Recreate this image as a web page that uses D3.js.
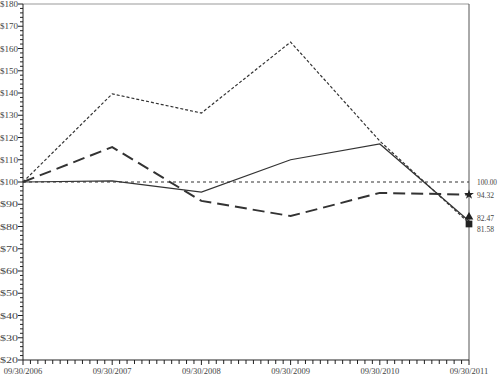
<!DOCTYPE html>
<html lang="en">
<head>
    <meta charset="UTF-8">
    <title>Cumulative Return</title>
    <style>
        body{ margin: 0; background: #fff; }
        svg{ display: block; }
        text{ font-family: "Liberation Serif", "DejaVu Serif", serif; fill: #444; }
    </style>
    <script src="https://cdn.jsdelivr.net/npm/d3@7"></script>
</head>
<body>
<script>
    const dates = ["09/30/2006","09/30/2007","09/30/2008","09/30/2009","09/30/2010","09/30/2011"]
    const companyVals = [100, 100.5, 95.5, 110, 117.1, 82.47]
    const peerVals = [100, 139.6, 131, 162.9, 118.4, 81.58]
    const indexVals = [100, 115.7, 91.5, 84.7, 95.1, 94.32]
    const baseVals = [100, 100, 100, 100, 100, 100]
    const yTicks = d3.range(20, 181, 10)

    const width = 499, height = 377
    const m = {top: 4, right: 30, bottom: 17, left: 23}

    const svg = d3.select("body").append("svg")
        .attr("width", width).attr("height", height)

    const x = d3.scaleLinear().domain([0, 5]).range([m.left, width - m.right])
    const y = d3.scaleLinear().domain([20, 180]).range([height - m.bottom, m.top])

    // frame: top + right
    svg.append("line").attr("x1", x(0)).attr("x2", x(5)).attr("y1", y(180)).attr("y2", y(180))
        .attr("stroke", "#999").attr("stroke-width", 1.2)
    svg.append("line").attr("x1", x(5)).attr("x2", x(5)).attr("y1", y(180)).attr("y2", y(20))
        .attr("stroke", "#555").attr("stroke-width", 1)

    // y axis
    const yAxis = svg.append("g").attr("transform", `translate(${x(0)},0)`)
    yAxis.append("line").attr("y1", y(180)).attr("y2", y(20)).attr("stroke", "#222")
    yAxis.selectAll(".minor").data(d3.range(20, 181, 2)).enter().append("line")
        .attr("x1", d => d % 10 == 0 ? -5 : -3).attr("x2", 0)
        .attr("y1", d => y(d)).attr("y2", d => y(d))
        .attr("stroke", "#222")
    yAxis.selectAll("text").data(yTicks).enter().append("text")
        .attr("x", -5).attr("y", d => y(d) + 3)
        .attr("text-anchor", "end").attr("font-size", 8.5)
        .attr("textLength", 18).attr("lengthAdjust", "spacingAndGlyphs")
        .text(d => "$" + d)

    // x axis
    const xAxis = svg.append("g").attr("transform", `translate(0,${y(20)})`)
    xAxis.append("line").attr("x1", x(0)).attr("x2", x(5)).attr("stroke", "#222")
    xAxis.selectAll(".tick").data(d3.range(0, 61)).enter().append("line")
        .attr("x1", d => x(d / 12)).attr("x2", d => x(d / 12))
        .attr("y1", 0).attr("y2", d => d % 12 == 0 ? 5 : 4)
        .attr("stroke", "#222")
    xAxis.selectAll("text").data(dates).enter().append("text")
        .attr("x", (d, i) => x(i)).attr("y", 14)
        .attr("text-anchor", "middle").attr("font-size", 8.5)
        .text(d => d)

    const line = d3.line().x((d, i) => x(i)).y(d => y(d))

    const series = [
        {vals: baseVals, dash: "3,3", w: 1.2},
        {vals: peerVals, dash: "3,2", w: 1.2},
        {vals: companyVals, dash: null, w: 1.2},
        {vals: indexVals, dash: "12,6", w: 2}
    ]
    svg.selectAll(".series").data(series).enter().append("path")
        .attr("d", d => line(d.vals))
        .attr("fill", "none").attr("stroke", "#333")
        .attr("stroke-width", d => d.w)
        .attr("stroke-dasharray", d => d.dash)

    // end markers
    const ex = x(5)
    svg.append("path").attr("d", d3.symbol(d3.symbolTriangle, 32)())
        .attr("transform", `translate(${ex},${y(companyVals[5]) - 4})`).attr("fill", "#222")
    svg.append("path").attr("d", d3.symbol(d3.symbolSquare, 45)())
        .attr("transform", `translate(${ex},${y(peerVals[5]) + 1})`).attr("fill", "#222")
    svg.append("path").attr("d", d3.symbol(d3.symbolStar, 30)())
        .attr("transform", `translate(${ex},${y(indexVals[5])})`).attr("fill", "#222")

    // end labels
    const labels = [
        {v: baseVals[5], t: "100.00", dy: 3, len: 20},
        {v: indexVals[5], t: "94.32", dy: 3, len: 17},
        {v: companyVals[5], t: "82.47", dy: 0, len: 17},
        {v: peerVals[5], t: "81.58", dy: 9, len: 17}
    ]
    svg.selectAll(".endlbl").data(labels).enter().append("text")
        .attr("x", ex + 8).attr("y", d => y(d.v) + d.dy)
        .attr("font-size", 8.5)
        .attr("textLength", d => d.len).attr("lengthAdjust", "spacingAndGlyphs")
        .text(d => d.t)
</script>
</body>
</html>
